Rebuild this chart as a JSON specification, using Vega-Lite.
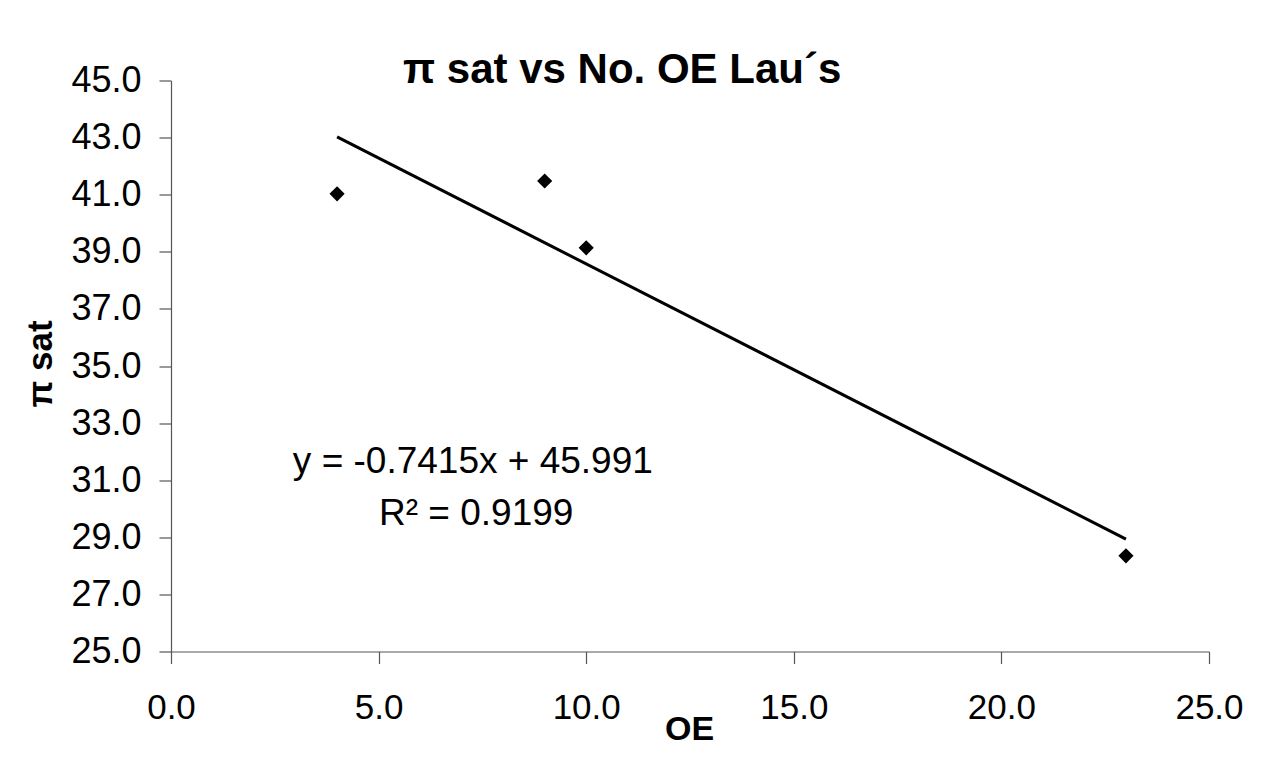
{
  "$schema": "https://vega.github.io/schema/vega-lite/v6.json",
  "autosize": "none",
  "width": 1038,
  "height": 571,
  "padding": {"left": 171, "top": 80.5, "right": 66, "bottom": 106.5},
  "background": "white",
  "config": {
    "view": {"stroke": null},
    "font": "Liberation Sans"
  },
  "title": {
    "text": "π sat vs No. OE Lau´s",
    "font": "Liberation Sans",
    "fontSize": 42,
    "fontWeight": "bold",
    "color": "black",
    "anchor": "start",
    "frame": "group",
    "dx": 232,
    "dy": 62,
    "baseline": "alphabetic",
    "offset": 0
  },
  "datasets": {
    "points": [
      {"OE": 4, "pi_sat": 41.03},
      {"OE": 9, "pi_sat": 41.48},
      {"OE": 10, "pi_sat": 39.14},
      {"OE": 23, "pi_sat": 28.35}
    ],
    "trend": [
      {"OE": 4, "pi_sat": 43.025},
      {"OE": 23, "pi_sat": 28.937}
    ],
    "annotations": [
      {"OE": 7.27, "pi_sat": 31.26, "label": "y = -0.7415x + 45.991"},
      {"OE": 7.35, "pi_sat": 29.44, "label": "R² = 0.9199"}
    ]
  },
  "layer": [
    {
      "data": {"name": "trend"},
      "mark": {"type": "line", "color": "black", "strokeWidth": 3},
      "encoding": {
        "x": {
          "field": "OE", "type": "quantitative",
          "scale": {"domain": [0, 25], "nice": false, "zero": false},
          "axis": {
            "values": [0, 5, 10, 15, 20, 25],
            "format": ".1f",
            "grid": false,
            "title": "OE",
            "titleFont": "Liberation Sans",
            "titleFontSize": 34,
            "titleFontWeight": "bold",
            "titleColor": "black",
            "titleX": 518,
            "titleY": 88,
            "titleAlign": "center",
            "titleBaseline": "alphabetic",
            "labelFont": "Liberation Sans",
            "labelFontSize": 35,
            "labelColor": "black",
            "labelPadding": 27,
            "labelFlush": false,
            "tickSize": 12,
            "tickColor": "#555555",
            "domainColor": "#555555",
            "domainWidth": 1.2,
            "tickWidth": 1.2
          }
        },
        "y": {
          "field": "pi_sat", "type": "quantitative",
          "scale": {"domain": [25, 45], "nice": false, "zero": false},
          "axis": {
            "values": [25, 27, 29, 31, 33, 35, 37, 39, 41, 43, 45],
            "format": ".1f",
            "grid": false,
            "title": "π sat",
            "titleFont": "Liberation Sans",
            "titleFontSize": 35,
            "titleFontWeight": "bold",
            "titleColor": "black",
            "titleAngle": 270,
            "titleX": -131,
            "titleY": 283,
            "titleAlign": "center",
            "titleBaseline": "middle",
            "labelFont": "Liberation Sans",
            "labelFontSize": 36,
            "labelColor": "black",
            "labelPadding": 18,
            "labelFlush": false,
            "tickSize": 12,
            "tickColor": "#555555",
            "domainColor": "#555555",
            "domainWidth": 1.2,
            "tickWidth": 1.2
          }
        }
      }
    },
    {
      "data": {"name": "points"},
      "mark": {"type": "point", "shape": "diamond", "filled": true, "color": "black", "size": 230, "opacity": 1},
      "encoding": {
        "x": {"field": "OE", "type": "quantitative"},
        "y": {"field": "pi_sat", "type": "quantitative"}
      }
    },
    {
      "data": {"name": "annotations"},
      "mark": {"type": "text", "font": "Liberation Sans", "fontSize": 37, "color": "black", "align": "center", "baseline": "alphabetic"},
      "encoding": {
        "x": {"field": "OE", "type": "quantitative"},
        "y": {"field": "pi_sat", "type": "quantitative"},
        "text": {"field": "label"}
      }
    }
  ]
}
